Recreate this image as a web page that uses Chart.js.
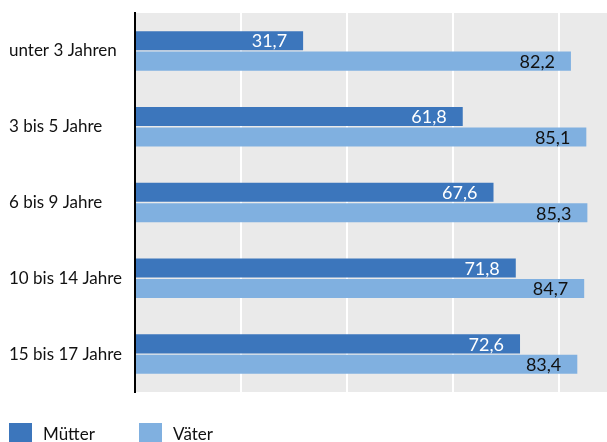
<!DOCTYPE html>
<html>
<head>
<meta charset="utf-8">
<script src="https://cdn.jsdelivr.net/npm/chart.js@4/dist/chart.umd.min.js"></script>
<style>
  html, body { margin: 0; padding: 0; background: #fff; overflow: hidden; }
  #wrap { width: 607px; height: 442px; position: relative; }
  .legend { position: absolute; top: 423px; left: 0; font-family: Lato, "Noto Sans", sans-serif; font-size: 17px; color: #111; }
  .legend span.box { position: absolute; top: 0; width: 23px; height: 23px; }
  .legend span.txt { position: absolute; top: 0px; white-space: nowrap; }
</style>
</head>
<body>
<div id="wrap">
  <canvas id="chartEltern"></canvas>
  <div class="legend" id="legend"></div>
</div>
<script>
/* Erwerbstaetigkeit nach Alter des juengsten Kindes */
var categories = ['unter 3 Jahren', '3 bis 5 Jahre', '6 bis 9 Jahre', '10 bis 14 Jahre', '15 bis 17 Jahre'];
var muetter = [31.7, 61.8, 67.6, 71.8, 72.6];
var vaeter = [82.2, 85.1, 85.3, 84.7, 83.4];
var xTicks = [0, 20, 40, 60, 80];
var seriesNames = ['Mütter', 'Väter'];
var seriesColors = ['#3c76bc', '#80b0e0'];

var fontFamily = 'Lato, "Noto Sans", sans-serif';

// grauer Hintergrund im Plotbereich
var plotBackground = {
  id: 'plotBackground',
  beforeDraw: function (chart) {
    let a = chart.chartArea;
    let ctx = chart.ctx;
    ctx.save();
    ctx.fillStyle = '#eaeaea';
    ctx.fillRect(a.left, a.top, a.right - a.left, a.bottom - a.top);
    ctx.restore();
  }
};

// Werte innen am Balkenende
var barValues = {
  id: 'barValues',
  afterDatasetsDraw: function (chart) {
    let ctx = chart.ctx;
    ctx.save();
    ctx.font = '18px ' + fontFamily;
    ctx.textAlign = 'right';
    ctx.textBaseline = 'middle';
    chart.data.datasets.forEach(function (ds, i) {
      let meta = chart.getDatasetMeta(i);
      ctx.fillStyle = i === 0 ? '#ffffff' : '#111111';
      meta.data.forEach(function (bar, j) {
        let txt = ds.data[j].toLocaleString('de-DE', { minimumFractionDigits: 1 });
        ctx.fillText(txt, bar.x - 16, bar.y + 1);
      });
    });
    ctx.restore();
  }
};

var ctx = document.getElementById('chartEltern').getContext('2d');
var myChart = new Chart(ctx, {
  type: 'bar',
  plugins: [plotBackground, barValues],
  data: {
    labels: categories,
    datasets: [
      {
        label: seriesNames[0],
        data: muetter,
        backgroundColor: seriesColors[0],
        categoryPercentage: 0.54,
        barPercentage: 0.93,
      },
      {
        label: seriesNames[1],
        data: vaeter,
        backgroundColor: seriesColors[1],
        categoryPercentage: 0.54,
        barPercentage: 0.93,
      },
    ],
  },
  options: {
    indexAxis: 'y',
    responsive: true,
    maintainAspectRatio: false,
    animation: false,
    layout: {
      padding: { top: 13, left: 9, right: 0, bottom: 50 },
    },
    scales: {
      x: {
        min: 0,
        max: 89,
        afterBuildTicks: function (scale) {
          scale.ticks = xTicks.map(function (v) { return { value: v }; });
        },
        ticks: { display: false },
        grid: { color: '#ffffff', lineWidth: 2, drawTicks: false },
        border: { display: false },
      },
      y: {
        grid: { display: false, drawTicks: false },
        border: { display: true, color: '#000000', width: 2 },
        ticks: {
          crossAlign: 'far',
          color: '#111111',
          padding: 0,
          font: { family: fontFamily, size: 17 },
        },
        afterFit: function (scale) {
          scale.width = 126;
        },
      },
    },
    plugins: {
      legend: { display: false },
      tooltip: { enabled: false },
    },
  },
});

// Legende unten
var legendX = [9, 139];
var legend = document.getElementById('legend');
seriesNames.forEach(function (name, i) {
  let box = document.createElement('span');
  box.className = 'box';
  box.style.left = legendX[i] + 'px';
  box.style.background = seriesColors[i];
  legend.appendChild(box);
  let txt = document.createElement('span');
  txt.className = 'txt';
  txt.style.left = (legendX[i] + 34) + 'px';
  txt.textContent = name;
  legend.appendChild(txt);
});
</script>
</body>
</html>
